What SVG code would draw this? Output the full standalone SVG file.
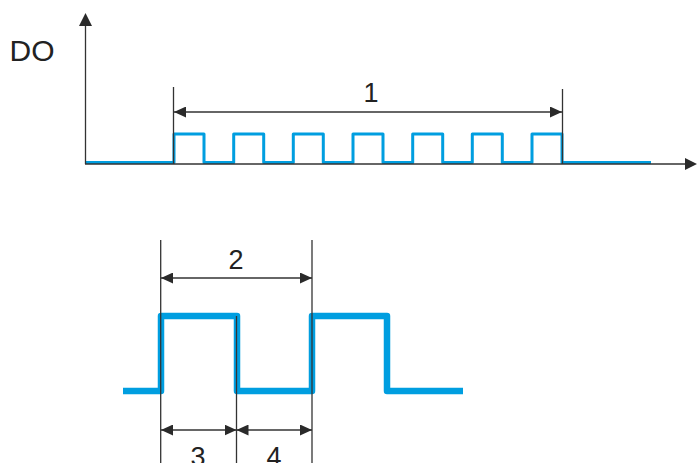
<svg xmlns="http://www.w3.org/2000/svg" width="697" height="463" viewBox="0 0 697 463">
<defs>
<style>
.ln{stroke:#333;stroke-width:1.3;fill:none}
.sig{stroke:#009ee0;fill:none;stroke-linejoin:round}
.lbl{font-family:"Liberation Sans",Arial,sans-serif;fill:#222;text-anchor:middle}
</style>
<marker id="ah" markerWidth="12" markerHeight="11" refX="12" refY="5.5" orient="auto-start-reverse" markerUnits="userSpaceOnUse">
<path d="M0,0 L12,5.5 L0,11 Z" fill="#2a2a2a"/>
</marker>
</defs>
<rect width="697" height="463" fill="#fff"/>
<g id="top-chart">
<path class="sig" stroke-width="3" d="M85,162.5 H174 V134 H204 V162.5 H233.7 V134 H263.7 V162.5 H293.3 V134 H323.3 V162.5 H353 V134 H383 V162.5 H412.7 V134 H442.7 V162.5 H472.3 V134 H502.3 V162.5 H532 V134 H562 V162.5 H651"/>
<line class="ln" x1="85.5" y1="164" x2="85.5" y2="25"/>
<path d="M79,26 L85.5,13 L92,26 Z" fill="#2a2a2a"/>
<line class="ln" x1="85" y1="164" x2="686" y2="164"/>
<path d="M685,158 L697,164 L685,170 Z" fill="#2a2a2a"/>
<text class="lbl" x="32" y="61" font-size="30">DO</text>
</g>
<g id="dim-1">
<line class="ln" x1="173.5" y1="87" x2="173.5" y2="164"/>
<line class="ln" x1="562.5" y1="89" x2="562.5" y2="164"/>
<line class="ln" x1="174" y1="112" x2="562" y2="112" marker-start="url(#ah)" marker-end="url(#ah)"/>
<text class="lbl" x="371" y="102" font-size="27">1</text>
</g>
<g id="bottom-chart">
<path class="sig" stroke-width="6.5" d="M123,391 H161 V316 H237 V391 H312 V316 H387 V391 H463"/>
</g>
<g id="dim-lines">
<line class="ln" x1="160.7" y1="240" x2="160.7" y2="463"/>
<line class="ln" x1="236.5" y1="316" x2="236.5" y2="463"/>
<line class="ln" x1="312" y1="240" x2="312" y2="463"/>
</g>
<g id="dim-2">
<line class="ln" x1="161" y1="278" x2="312" y2="278" marker-start="url(#ah)" marker-end="url(#ah)"/>
<text class="lbl" x="236" y="269" font-size="27">2</text>
</g>
<g id="dim-3">
<line class="ln" x1="161" y1="430" x2="236.5" y2="430" marker-start="url(#ah)" marker-end="url(#ah)"/>
<text class="lbl" x="198" y="466" font-size="27">3</text>
</g>
<g id="dim-4">
<line class="ln" x1="236.5" y1="430" x2="312" y2="430" marker-start="url(#ah)" marker-end="url(#ah)"/>
<text class="lbl" x="274" y="466" font-size="27">4</text>
</g>
</svg>
